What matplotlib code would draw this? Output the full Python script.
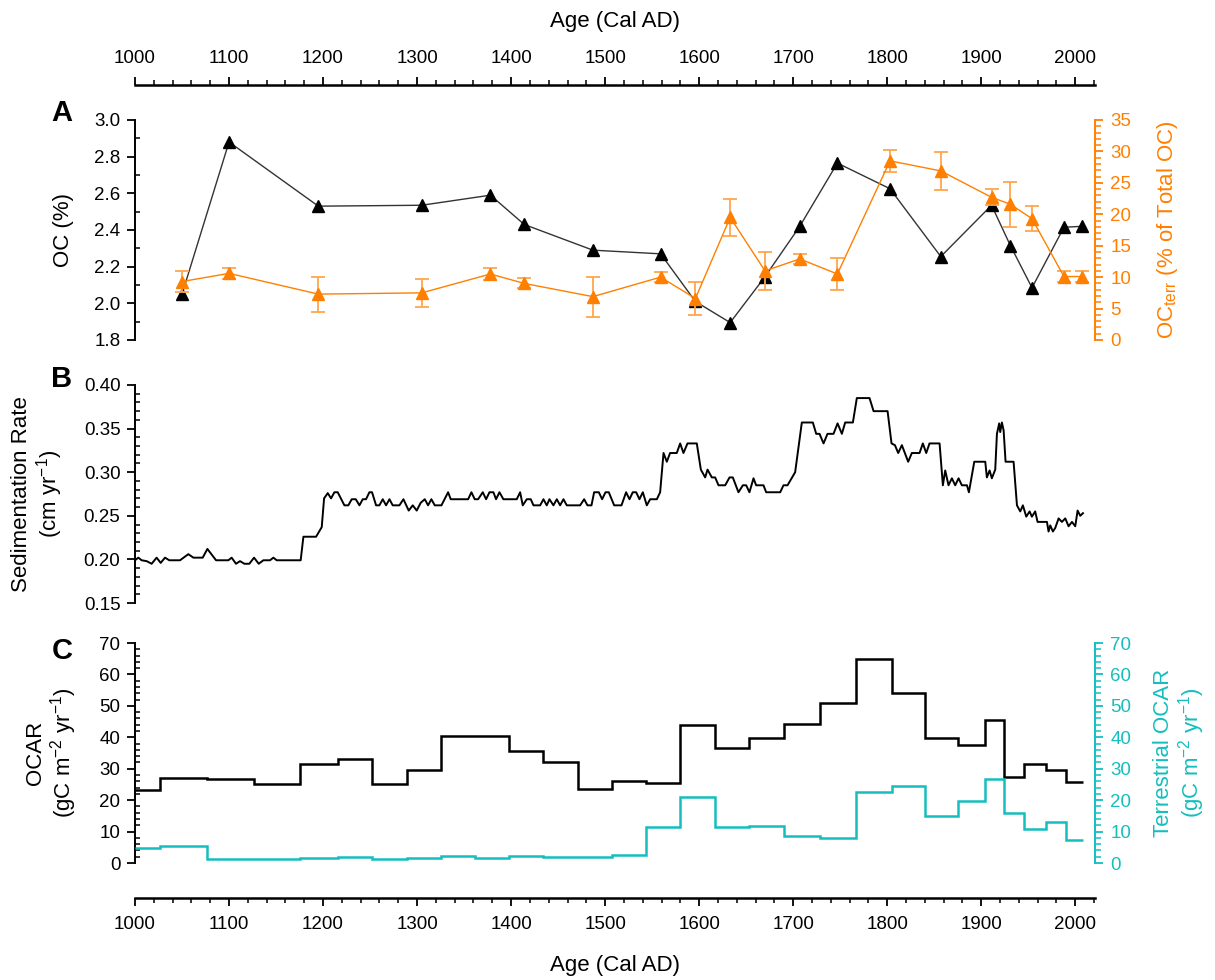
import matplotlib

matplotlib.use("Agg")

import matplotlib.pyplot as plt
from matplotlib.ticker import MultipleLocator

# --- panel A: organic carbon (%) and terrestrial fraction ---
oc_year = [1050, 1100, 1195, 1305, 1378, 1414, 1487, 1559, 1596, 1633,
           1670, 1707, 1747, 1803, 1857, 1911, 1931, 1954, 1988, 2007]
oc_pct = [2.05, 2.88, 2.53, 2.535, 2.59, 2.43, 2.29, 2.27, 2.01, 1.895,
          2.145, 2.42, 2.765, 2.625, 2.255, 2.535, 2.315, 2.085, 2.415, 2.42]
octerr = [9.3, 10.6, 7.3, 7.5, 10.5, 9.0, 6.9, 10.0, 6.6, 19.5,
          11.0, 12.9, 10.5, 28.5, 26.9, 22.7, 21.6, 19.3, 10.1, 10.1]
octerr_err = [1.6, 0.9, 2.8, 2.2, 1.0, 0.8, 3.2, 0.8, 2.7, 2.9,
              3.0, 0.8, 2.5, 1.8, 3.0, 1.3, 3.6, 2.0, 0.9, 0.9]

# --- panel B: sedimentation rate ---
sed_year = [
    1000.0, 1003.5, 1007.1, 1012.4, 1017.7, 1023.0, 1027.3, 1031.9, 1036.5, 1047.9,
    1056.7, 1062.1, 1072.0, 1077.0, 1086.2, 1099.3, 1102.8, 1107.4, 1111.7, 1116.3,
    1121.6, 1126.6, 1131.6, 1136.5, 1143.6, 1147.2, 1150.7, 1176.2, 1179.1, 1192.6,
    1198.6, 1201.1, 1205.0, 1208.5, 1212.1, 1215.6, 1222.7, 1226.9, 1230.5, 1234.8,
    1238.7, 1242.2, 1245.7, 1249.3, 1252.1, 1256.4, 1259.9, 1263.5, 1267.0, 1270.6,
    1274.1, 1281.2, 1285.5, 1291.1, 1295.4, 1299.6, 1303.9, 1308.2, 1311.7, 1315.2,
    1318.8, 1325.9, 1333.0, 1335.8, 1354.3, 1357.8, 1361.3, 1364.9, 1369.9, 1373.4,
    1377.0, 1381.2, 1384.0, 1387.6, 1391.8, 1406.0, 1409.6, 1412.4, 1416.7, 1420.9,
    1423.8, 1430.9, 1434.4, 1437.9, 1440.8, 1445.0, 1448.6, 1452.1, 1455.7, 1459.2,
    1473.4, 1477.7, 1481.2, 1485.5, 1488.3, 1493.3, 1496.8, 1500.4, 1503.9, 1509.6,
    1517.4, 1522.3, 1525.9, 1529.4, 1533.0, 1536.5, 1540.1, 1544.3, 1547.9, 1555.0,
    1558.5, 1562.1, 1565.6, 1569.1, 1576.2, 1579.8, 1583.3, 1587.6, 1597.5, 1601.8,
    1606.4, 1608.9, 1613.5, 1617.0, 1620.6, 1627.7, 1632.3, 1635.8, 1641.8, 1646.5,
    1650.0, 1653.5, 1657.8, 1660.6, 1668.4, 1671.3, 1686.2, 1689.7, 1694.0, 1702.1,
    1705.7, 1709.2, 1720.9, 1724.5, 1728.0, 1732.3, 1736.5, 1742.9, 1747.2, 1751.8,
    1755.3, 1763.5, 1767.7, 1781.2, 1785.5, 1800.4, 1804.6, 1808.2, 1811.7, 1815.6,
    1822.3, 1826.2, 1834.4, 1837.9, 1841.5, 1845.0, 1855.7, 1859.2, 1861.7, 1865.2,
    1868.8, 1872.3, 1875.9, 1879.4, 1884.8, 1886.9, 1892.6, 1904.3, 1906.0, 1908.9,
    1911.3, 1914.9, 1916.7, 1919.1, 1920.2, 1922.0, 1923.8, 1925.9, 1934.4, 1938.0,
    1941.5, 1944.3, 1947.9, 1951.4, 1953.9, 1957.4, 1959.9, 1969.9, 1971.6, 1973.4,
    1976.2, 1978.7, 1982.3, 1985.8, 1989.4, 1992.9, 1996.5, 2000.0, 2002.5, 2005.3,
    2008.2,
]
sed_rate = [
    0.199, 0.202, 0.199, 0.198, 0.195, 0.202, 0.196, 0.202, 0.199, 0.199,
    0.206, 0.202, 0.202, 0.212, 0.199, 0.199, 0.202, 0.195, 0.198, 0.195,
    0.195, 0.202, 0.195, 0.199, 0.199, 0.202, 0.199, 0.199, 0.226, 0.226,
    0.237, 0.270, 0.276, 0.270, 0.277, 0.277, 0.262, 0.262, 0.269, 0.269,
    0.262, 0.269, 0.269, 0.277, 0.277, 0.262, 0.262, 0.269, 0.262, 0.269,
    0.262, 0.262, 0.269, 0.256, 0.262, 0.256, 0.265, 0.269, 0.262, 0.269,
    0.262, 0.262, 0.277, 0.269, 0.269, 0.277, 0.269, 0.269, 0.277, 0.269,
    0.277, 0.277, 0.269, 0.277, 0.269, 0.269, 0.277, 0.262, 0.269, 0.269,
    0.262, 0.262, 0.269, 0.262, 0.269, 0.262, 0.269, 0.262, 0.269, 0.262,
    0.262, 0.269, 0.262, 0.262, 0.277, 0.277, 0.269, 0.277, 0.277, 0.262,
    0.262, 0.277, 0.269, 0.277, 0.277, 0.269, 0.277, 0.262, 0.269, 0.269,
    0.277, 0.322, 0.312, 0.322, 0.322, 0.333, 0.322, 0.333, 0.333, 0.303,
    0.294, 0.303, 0.294, 0.294, 0.285, 0.285, 0.294, 0.294, 0.277, 0.285,
    0.285, 0.277, 0.293, 0.285, 0.285, 0.277, 0.277, 0.285, 0.285, 0.300,
    0.329, 0.357, 0.357, 0.344, 0.344, 0.333, 0.344, 0.344, 0.356, 0.344,
    0.357, 0.357, 0.385, 0.385, 0.370, 0.370, 0.333, 0.331, 0.322, 0.331,
    0.312, 0.322, 0.322, 0.333, 0.322, 0.333, 0.333, 0.285, 0.302, 0.285,
    0.293, 0.285, 0.293, 0.285, 0.285, 0.277, 0.312, 0.312, 0.294, 0.302,
    0.293, 0.303, 0.344, 0.356, 0.346, 0.357, 0.348, 0.312, 0.312, 0.262,
    0.255, 0.262, 0.249, 0.255, 0.249, 0.255, 0.243, 0.243, 0.232, 0.239,
    0.232, 0.236, 0.247, 0.243, 0.247, 0.238, 0.243, 0.238, 0.256, 0.250,
    0.253,
]

# --- panel C: carbon accumulation rates (bin edges + values) ---
ocar_edges = [1000, 1027, 1077, 1127, 1176, 1216, 1252, 1289, 1325, 1362,
              1398, 1434, 1471, 1507, 1543, 1580, 1617, 1653, 1690, 1728,
              1767, 1805, 1840, 1875, 1904, 1924, 1945, 1969, 1990, 2008]
ocar_total = [23.2, 27.1, 26.6, 25.1, 31.6, 33.2, 25.1, 29.6, 40.5, 40.5,
              35.7, 32.2, 23.5, 26.1, 25.4, 43.9, 36.5, 39.7, 44.2, 51.0,
              64.8, 54.2, 39.7, 37.5, 45.5, 27.3, 31.6, 29.6, 25.9]
ocar_terr = [4.7, 5.5, 1.3, 1.3, 1.6, 2.0, 1.3, 1.7, 2.3, 1.7,
             2.3, 2.0, 2.0, 2.6, 11.6, 21.1, 11.6, 11.9, 8.6, 8.0,
             22.7, 24.6, 15.1, 19.7, 26.7, 16.0, 10.8, 13.1, 7.3]

ORANGE = "#FF8000"
CYAN = "#14BEBE"
XLIM = (1000, 2021)

plt.rcParams["font.family"] = ["Liberation Sans", "DejaVu Sans"]
plt.rcParams["mathtext.default"] = "regular"

W_PX, H_PX = 1215, 980
LEFT = 135 / W_PX
WIDTH = (1095 - 135) / W_PX


def fy(px):
    return 1 - px / H_PX


def place_ylabel(ax, xpx):
    # centre the (possibly two-line) label on a pixel column of the figure
    ax.yaxis.label.set_verticalalignment("center")
    ax.yaxis.label.set_horizontalalignment("center")
    ax.yaxis.set_label_coords((xpx - 135) / 960, 0.5)


def style_left(ax, major, minor, fmt=None):
    ax.set_xlim(*XLIM)
    ax.set_xticks([])
    ax.patch.set_visible(False)
    for side in ("top", "bottom", "right"):
        ax.spines[side].set_visible(False)
    ax.spines["left"].set_linewidth(1.4)
    ax.yaxis.set_major_locator(MultipleLocator(major))
    ax.yaxis.set_minor_locator(MultipleLocator(minor))
    ax.tick_params(axis="y", which="major", direction="out", length=5.5, width=1.3,
                   labelsize=13.5, pad=5)
    ax.tick_params(axis="y", which="minor", direction="in", length=3.5, width=1.1)
    if fmt:
        ax.yaxis.set_major_formatter(fmt)


def style_right(ax, color, major, minor):
    ax.set_xticks([])
    for side in ("top", "bottom", "left"):
        ax.spines[side].set_visible(False)
    ax.spines["right"].set_color(color)
    ax.spines["right"].set_linewidth(1.4)
    ax.yaxis.set_major_locator(MultipleLocator(major))
    ax.yaxis.set_minor_locator(MultipleLocator(minor))
    ax.tick_params(axis="y", which="major", direction="out", length=6, width=1.3,
                   colors=color, labelsize=13.5, pad=5)
    ax.tick_params(axis="y", which="minor", direction="out", length=4, width=1.1,
                   colors=color)


fig = plt.figure(figsize=(12.15, 9.8), dpi=100)

# shared age axes at top and bottom
frame = fig.add_axes([LEFT, fy(898), WIDTH, fy(85) - fy(898)])
frame.patch.set_visible(False)
frame.set_xlim(*XLIM)
frame.set_ylim(0, 1)
frame.set_yticks([])
frame.spines["left"].set_visible(False)
frame.spines["right"].set_visible(False)
frame.spines["top"].set_linewidth(1.8)
frame.spines["bottom"].set_linewidth(1.8)
frame.xaxis.set_major_locator(MultipleLocator(100))
frame.xaxis.set_minor_locator(MultipleLocator(20))
frame.tick_params(axis="x", which="both", top=True, labeltop=True, bottom=True,
                  labelbottom=True, direction="out", labelsize=13.5, pad=7)
frame.tick_params(axis="x", which="major", length=6, width=1.3)
frame.tick_params(axis="x", which="minor", length=3.5, width=1.1)
fig.text(LEFT + WIDTH * 0.5, fy(21), "Age (Cal AD)", ha="center", va="center", fontsize=16)
fig.text(LEFT + WIDTH * 0.5, fy(965), "Age (Cal AD)", ha="center", va="center", fontsize=16)

# panel A
ax_a = fig.add_axes([LEFT, fy(340), WIDTH, fy(120) - fy(340)])
style_left(ax_a, 0.2, 0.1, "{x:.1f}")
ax_a.set_ylim(1.8, 3.0)
ax_a2 = ax_a.twinx()
style_right(ax_a2, ORANGE, 5, 1)
ax_a2.set_ylim(0, 35)
ax_a2.set_xlim(*XLIM)
ax_a.plot(oc_year, oc_pct, color="#333333", lw=1.0, marker="^", ms=8.5,
          mfc="black", mec="black", zorder=3)
ax_a2.errorbar(oc_year, octerr, yerr=octerr_err, color=ORANGE, lw=1.0, marker="^",
               ms=8.5, mfc=ORANGE, mec=ORANGE, ecolor="#FFA64D", elinewidth=1.3,
               capsize=5, capthick=1.3, zorder=4)
ax_a.set_ylabel("OC (%)", fontsize=16)
place_ylabel(ax_a, 63)
ax_a2.set_ylabel("OC$_{terr}$ (% of Total OC)", fontsize=16, color=ORANGE)
place_ylabel(ax_a2, 1167)

# panel B
ax_b = fig.add_axes([LEFT, fy(603), WIDTH, fy(385) - fy(603)])
style_left(ax_b, 0.05, 0.01, "{x:.2f}")
ax_b.set_ylim(0.15, 0.40)
ax_b.plot(sed_year, sed_rate, color="black", lw=1.4)
ax_b.set_ylabel("Sedimentation Rate\n(cm yr$^{-1}$)", fontsize=16, linespacing=1.1)
place_ylabel(ax_b, 38)

# panel C
ax_c = fig.add_axes([LEFT, fy(863), WIDTH, fy(643) - fy(863)])
style_left(ax_c, 10, 2)
ax_c.set_ylim(0, 70)
ax_c2 = ax_c.twinx()
style_right(ax_c2, CYAN, 10, 2)
ax_c2.set_ylim(0, 70)
ax_c2.set_xlim(*XLIM)
ax_c.stairs(ocar_total, ocar_edges, color="black", lw=1.8, baseline=None)
ax_c2.stairs(ocar_terr, ocar_edges, color=CYAN, lw=1.8, baseline=None)
ax_c.set_ylabel("OCAR\n(gC m$^{-2}$ yr$^{-1}$)", fontsize=16, linespacing=1.1)
place_ylabel(ax_c, 52)
ax_c2.set_ylabel("Terrestrial OCAR\n(gC m$^{-2}$ yr$^{-1}$)", fontsize=16,
                 color=CYAN, linespacing=1.1)
place_ylabel(ax_c2, 1180)

# panel letters
for letter, ypx in (("A", 113), ("B", 379), ("C", 651)):
    fig.text(62 / W_PX, fy(ypx), letter, ha="center", va="center",
             fontsize=21, fontweight="bold")

fig.savefig("out.png", dpi=100)
plt.close(fig)
